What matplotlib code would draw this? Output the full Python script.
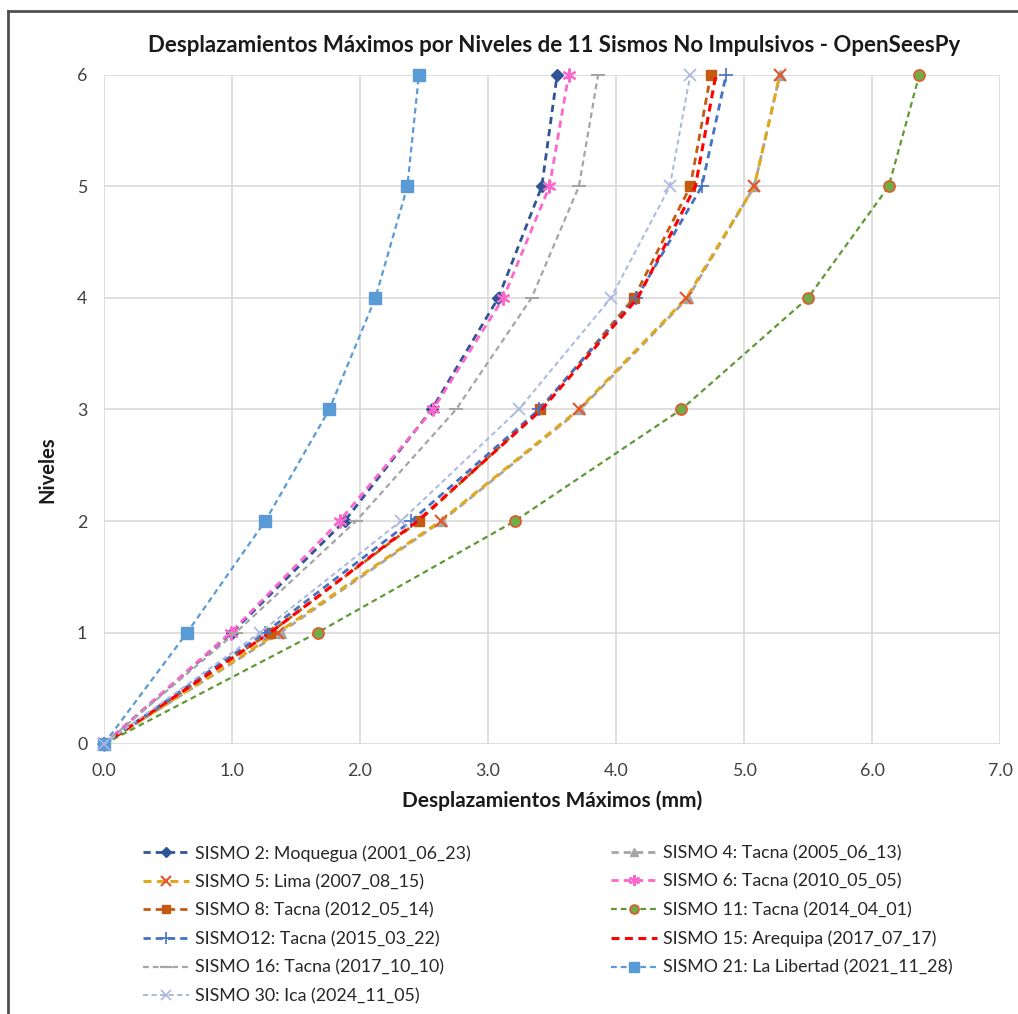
import matplotlib.pyplot as plt
from matplotlib.lines import Line2D

plt.rcParams['font.family'] = ['Lato', 'DejaVu Sans']

niveles = [0, 1, 2, 3, 4, 5, 6]

s2 = [0, 1.00, 1.88, 2.56, 3.08, 3.42, 3.54]
s4 = [0, 1.38, 2.64, 3.72, 4.56, 5.08, 5.28]
s5 = [0, 1.36, 2.63, 3.71, 4.55, 5.08, 5.28]
s6 = [0, 0.99, 1.84, 2.57, 3.12, 3.48, 3.63]
s8 = [0, 1.30, 2.46, 3.41, 4.14, 4.58, 4.74]
s11 = [0, 1.67, 3.21, 4.51, 5.50, 6.13, 6.37]
s12 = [0, 1.26, 2.40, 3.40, 4.16, 4.67, 4.86]
s15 = [0, 1.30, 2.45, 3.42, 4.17, 4.62, 4.78]
s16 = [0, 1.03, 1.97, 2.75, 3.34, 3.71, 3.86]
s21 = [0, 0.65, 1.26, 1.76, 2.12, 2.37, 2.46]
s30 = [0, 1.22, 2.32, 3.24, 3.96, 4.42, 4.58]

etiquetas = {
    's2': 'SISMO 2: Moquegua (2001_06_23)',
    's4': 'SISMO 4: Tacna (2005_06_13)',
    's5': 'SISMO 5: Lima (2007_08_15)',
    's6': 'SISMO 6: Tacna (2010_05_05)',
    's8': 'SISMO 8: Tacna (2012_05_14)',
    's11': 'SISMO 11: Tacna (2014_04_01)',
    's12': 'SISMO12: Tacna (2015_03_22)',
    's15': 'SISMO 15: Arequipa (2017_07_17)',
    's16': 'SISMO 16: Tacna (2017_10_10)',
    's21': 'SISMO 21: La Libertad (2021_11_28)',
    's30': 'SISMO 30: Ica (2024_11_05)',
}

W, H = 1018, 1014
fig = plt.figure(figsize=(W / 100, H / 100), dpi=100)
ax = fig.add_axes([104 / W, 1 - 744 / H, 896 / W, 669 / H])

dash = (0, (2.6, 1.8))
estilos = {
    's2': dict(data=s2, color='#2F5597', marker='D', ms=6, lw=2.0),
    's4': dict(data=s4, color='#A5A5A5', marker='^', ms=7, lw=2.0),
    's5': dict(data=s5, color='#E0A81E', marker='x', ms=9, lw=2.2, mec='#E2572B', mew=1.5),
    's6': dict(data=s6, color='#FF66CC', marker=(6, 2, 0), ms=10, lw=2.0, mew=1.5),
    's8': dict(data=s8, color='#C55A11', marker='s', ms=7, lw=2.0),
    's11': dict(data=s11, color='#5E9A34', marker='o', ms=8, lw=1.6, mfc='#70AD47', mec='#E2572B', mew=1.2),
    's12': dict(data=s12, color='#4472C4', marker='+', ms=10, lw=2.0, mew=1.2),
    's15': dict(data=s15, color='#FF0000', marker=None, ms=0, lw=2.2),
    's16': dict(data=s16, color='#A5A5A5', marker='_', ms=10, lw=1.6, mew=1.5),
    's21': dict(data=s21, color='#5B9BD5', marker='s', ms=9, lw=1.6),
    's30': dict(data=s30, color='#A9B7E0', marker='x', ms=9, lw=1.4, mew=1.2),
}

handles = {}
for key, st in estilos.items():
    st = dict(st)
    data = st.pop('data')
    line, = ax.plot(data, niveles, linestyle=dash, clip_on=False, zorder=3, **st)
    handles[key] = line

ax.set_xlim(0, 7)
ax.set_ylim(0, 6)
ax.set_xticks(range(8))
ax.set_xticklabels([f'{v:.1f}' for v in range(8)])
ax.set_yticks(niveles)
ax.grid(True, color='#D9D9D9', lw=1.2, zorder=0)
for sp in ax.spines.values():
    sp.set_visible(False)
ax.tick_params(length=0, labelsize=12.8, colors='#404040', pad=14)
ax.tick_params(axis='y', pad=12)

fig.text(554 / W, 1 - 45 / H, 'Desplazamientos Máximos por Niveles de 11 Sismos No Impulsivos - OpenSeesPy',
         ha='center', va='center', fontsize=16, fontweight='bold', color='#1a1a1a')
fig.text(552 / W, 1 - 801 / H, 'Desplazamientos Máximos (mm)', ha='center', va='center',
         fontsize=15, fontweight='bold', color='#1a1a1a')
fig.text(47 / W, 1 - 470 / H, 'Niveles', ha='center', va='center', rotation=90,
         fontsize=14.5, fontweight='bold', color='#1a1a1a')

# outer frame
fig.add_artist(Line2D([8 / W, 8 / W], [0, 1 - 11 / H], transform=fig.transFigure, color='#505050', lw=2))
fig.add_artist(Line2D([8 / W, 1], [1 - 11 / H, 1 - 11 / H], transform=fig.transFigure, color='#505050', lw=2))

col1 = ['s2', 's5', 's8', 's12', 's16', 's30']
col2 = ['s4', 's6', 's11', 's15', 's21']
for cols, x0 in ((col1, 143), (col2, 611)):
    leg = fig.legend([handles[k] for k in cols], [etiquetas[k] for k in cols],
                     loc='upper left', bbox_to_anchor=(x0 / W, 1 - 845 / H),
                     frameon=False, fontsize=12.8, handlelength=2.6, handletextpad=0.3,
                     labelspacing=0.7, borderpad=0, borderaxespad=0, markerscale=0.8)
    for t in leg.get_texts():
        t.set_color('#262626')

fig.savefig('out.png', dpi=100)
